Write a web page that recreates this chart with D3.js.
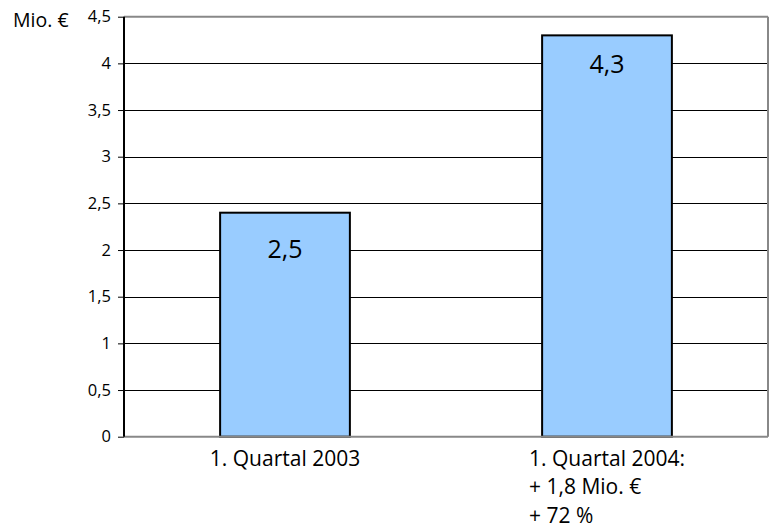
<!DOCTYPE html>
<html><head><meta charset="utf-8">
<script src="https://cdn.jsdelivr.net/npm/d3@7"></script>
<style>body{margin:0;background:#fff}svg{display:block}text{font-family:"Open Sans",sans-serif;fill:#000}</style>
</head><body><svg id="c" width="770" height="529"></svg>
<script>
const categories = ["1. Quartal 2003", "1. Quartal 2004:\n+ 1,8 Mio. €\n+ 72 %"];
const values = [2.4, 4.3];
const valueLabels = ["2,5", "4,3"];
const yTicks = [0, 0.5, 1, 1.5, 2, 2.5, 3, 3.5, 4, 4.5];
const yTickLabels = ["0", "0,5", "1", "1,5", "2", "2,5", "3", "3,5", "4", "4,5"];
const unitLabel = "Mio. €";
const labelDy = [37, 29];

const svg = d3.select("#c");
const L = 124, R = 768, T = 16.7, B = 436.7;
const x = d3.scaleBand().domain(categories).range([L, R]).padding(0);
const y = d3.scaleLinear().domain([0, 4.5]).range([B, T]);
const barW = x.bandwidth() * 0.403;

// gridlines
svg.append("g").selectAll("line").data(yTicks.filter(v => v > 0 && v < 4.5)).join("line")
  .attr("x1", L).attr("x2", R).attr("y1", d => Math.round(y(d)) + 0.5).attr("y2", d => Math.round(y(d)) + 0.5)
  .attr("stroke", "#000").attr("stroke-width", 1);
// top & right border
svg.append("line").attr("x1", L).attr("x2", R).attr("y1", y(4.5)).attr("y2", y(4.5)).attr("stroke", "#888").attr("stroke-width", 2);
svg.append("line").attr("x1", R).attr("x2", R).attr("y1", y(4.5)).attr("y2", B).attr("stroke", "#888").attr("stroke-width", 2);

// bars
svg.append("g").selectAll("rect").data(values).join("rect")
  .attr("x", (d, i) => x(categories[i]) + x.bandwidth() / 2 - barW / 2)
  .attr("width", barW)
  .attr("y", d => y(d)).attr("height", d => B - y(d))
  .attr("fill", "#99ccff").attr("stroke", "#000").attr("stroke-width", 2);

// value labels
svg.append("g").selectAll("text").data(values).join("text")
  .attr("x", (d, i) => x(categories[i]) + x.bandwidth() / 2)
  .attr("y", (d, i) => y(d) + labelDy[i])
  .attr("dy", "0.35em").attr("text-anchor", "middle")
  .style("font-size", "25px").text((d, i) => valueLabels[i]);

// bottom axis line
svg.append("line").attr("x1", L).attr("x2", R).attr("y1", B).attr("y2", B).attr("stroke", "#888").attr("stroke-width", 2);

// y axis
const yAxis = d3.axisLeft(y).tickValues(yTicks).tickSize(6).tickPadding(7)
  .tickFormat((d, i) => yTickLabels[i]);
const ga = svg.append("g").attr("transform", `translate(${L},0)`).call(yAxis);
ga.select(".domain").attr("stroke", "#000").attr("stroke-width", 2).attr("d", `M0,${T}V${B}`);
ga.selectAll(".tick line").attr("stroke", "#000");
ga.selectAll(".tick text").style("font-size", "16.5px").style("font-family", '"Open Sans",sans-serif').attr("fill", "#000");

svg.append("text").attr("x", 13).attr("y", 27).style("font-size", "19.5px").text(unitLabel);

// x labels
categories.forEach((c, i) => {
  const lines = c.split("\n");
  const cx = x(c) + x.bandwidth() / 2;
  const ts = lines.map((ln, j) => svg.append("text").style("font-size", "21px")
    .attr("y", 465.5 + j * 28.7).text(ln));
  const w = Math.max(...ts.map(t => t.node().getComputedTextLength()));
  ts.forEach(t => t.attr("x", cx - w / 2));
});
</script></body></html>
